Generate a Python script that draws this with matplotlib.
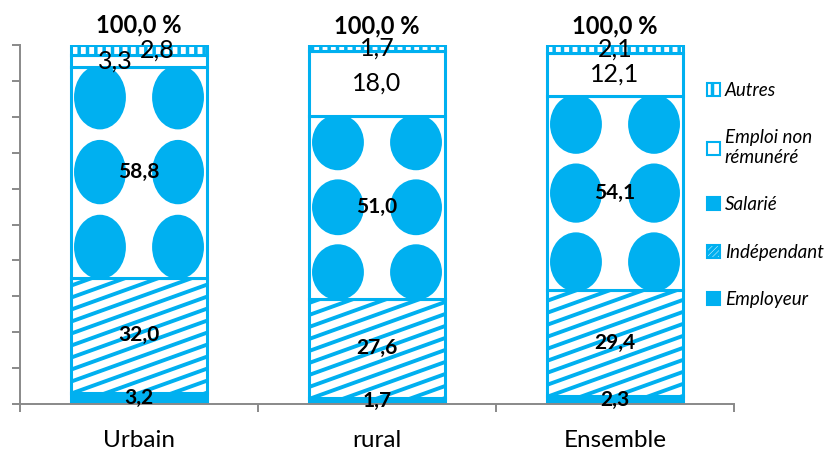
import matplotlib.pyplot as plt
from matplotlib.patches import Ellipse, Patch
import numpy as np

categories = ['Urbain', 'rural', 'Ensemble']
employeur = [3.2, 1.7, 2.3]
independant = [32.0, 27.6, 29.4]
salarie = [58.8, 51.0, 54.1]
non_remunere = [3.3, 18.0, 12.1]
autres = [2.8, 1.7, 2.1]
totals = ['100,0 %', '100,0 %', '100,0 %']
legend_labels = ['Autres', 'Emploi non\nrémunéré', 'Salarié', 'Indépendant', 'Employeur']

plt.rcParams['font.family'] = ['Lato', 'DejaVu Sans']
plt.rcParams['hatch.linewidth'] = 2.5

blue = '#00B0F0'
grey = '#898989'

fig = plt.figure(figsize=(8.24, 4.55), dpi=100)
ax = fig.add_axes([20 / 824, 51 / 455, 714 / 824, 359 / 455])
ax.set_xlim(-0.5, 2.5)
ax.set_ylim(0, 100)

x = np.arange(len(categories))
w = 0.575
lw = 2.2

b_ind = np.array(employeur)
b_sal = b_ind + independant
b_non = b_sal + salarie
b_aut = b_non + non_remunere
top = b_aut + autres

bars_emp = ax.bar(x, employeur, w, color=blue, edgecolor=blue, lw=lw)
bars_ind = ax.bar(x, independant, w, bottom=b_ind, color='white', edgecolor=blue, lw=lw)
bars_sal = ax.bar(x, salarie, w, bottom=b_sal, color='white', edgecolor=blue, lw=lw)
bars_non = ax.bar(x, non_remunere, w, bottom=b_non, color='white', edgecolor=blue, lw=lw)
bars_aut = ax.bar(x, autres, w, bottom=b_aut, color='white', edgecolor=blue, lw=lw, hatch='||')

# pixel scale, used for the stripe pattern
sx, sy = ax.transData.transform((1, 1)) - ax.transData.transform((0, 0))
slope = 0.36 * sx / sy
period = 12 / sy

# diagonal stripes (Indépendant)
for rect in bars_ind:
    x0, y0 = rect.get_x(), rect.get_y()
    bw, bh = rect.get_width(), rect.get_height()
    for s in np.arange(y0 - slope * bw, y0 + bh + period, period):
        ln, = ax.plot([x0, x0 + bw], [s, s + slope * bw], color=blue, lw=2.8,
                      solid_capstyle='butt', zorder=1.5)
        ln.set_clip_path(rect)

# big dots (Salarié)
for rect in bars_sal:
    cx = rect.get_x() + rect.get_width() / 2
    cy = rect.get_y() + rect.get_height() / 2
    pitch = rect.get_height() / 2.82
    for k in (-1, 0, 1):
        for dx in (-0.164, 0.164):
            e = Ellipse((cx + dx, cy + k * pitch), 0.218, 0.86 * pitch,
                        facecolor=blue, edgecolor='none', zorder=1.5)
            ax.add_patch(e)
            e.set_clip_path(rect)


def fmt(v):
    return f'{v:.1f}'.replace('.', ',')


# value labels
for i in range(len(categories)):
    ax.text(x[i], employeur[i] / 2, fmt(employeur[i]),
            ha='center', va='center', fontsize=15, fontweight='bold', zorder=5)
    ax.text(x[i], b_ind[i] + independant[i] / 2, fmt(independant[i]),
            ha='center', va='center', fontsize=15, fontweight='bold', zorder=5)
    ax.text(x[i], b_sal[i] + salarie[i] / 2, fmt(salarie[i]),
            ha='center', va='center', fontsize=15, fontweight='bold', zorder=5)
    # Urbain's two top labels are nudged apart so they don't overlap
    nx = x[i] - 0.1 if i == 0 else x[i]
    tx = x[i] + 0.075 if i == 0 else x[i]
    ax.text(nx, b_non[i] + non_remunere[i] / 2, fmt(non_remunere[i]),
            ha='center', va='center', fontsize=18, zorder=5)
    ax.text(tx, b_aut[i] + autres[i] / 2, fmt(autres[i]),
            ha='center', va='center', fontsize=18, zorder=5)
    ax.annotate(totals[i], (x[i], top[i]), xytext=(0, 14), textcoords='offset points',
                ha='center', va='center', fontsize=17, fontweight='bold',
                annotation_clip=False)

# axes styling
for side in ('top', 'right'):
    ax.spines[side].set_visible(False)
for side in ('left', 'bottom'):
    ax.spines[side].set_color(grey)
    ax.spines[side].set_linewidth(1.4)

ax.set_yticks(np.arange(0, 101, 10))
ax.set_yticklabels([])
ax.tick_params(axis='y', direction='out', length=6, width=1.4, color=grey)

ax.set_xticks(x, categories)
ax.set_xticks([-0.5, 0.5, 1.5, 2.5], minor=True)
ax.tick_params(axis='x', which='major', length=0, pad=19, labelsize=17.5)
ax.tick_params(axis='x', which='minor', direction='out', length=6, width=1.4, color=grey)

handles = [
    Patch(facecolor='white', edgecolor=blue, hatch='||', lw=1.5),
    Patch(facecolor='white', edgecolor=blue, lw=1.5),
    Patch(facecolor=blue, edgecolor=blue, lw=1.5),
    Patch(facecolor='white', edgecolor=blue, hatch='//////', lw=1.5),
    Patch(facecolor=blue, edgecolor=blue, lw=1.5),
]
leg = fig.legend(handles, legend_labels, loc='center left',
                 bbox_to_anchor=(707 / 824, 1 - 195 / 455), frameon=False,
                 prop={'style': 'italic', 'size': 13.5}, labelspacing=1.62,
                 handlelength=0.7, handleheight=0.7, handletextpad=0.25,
                 borderpad=0, borderaxespad=0)

fig.savefig('out.png', dpi=100)
